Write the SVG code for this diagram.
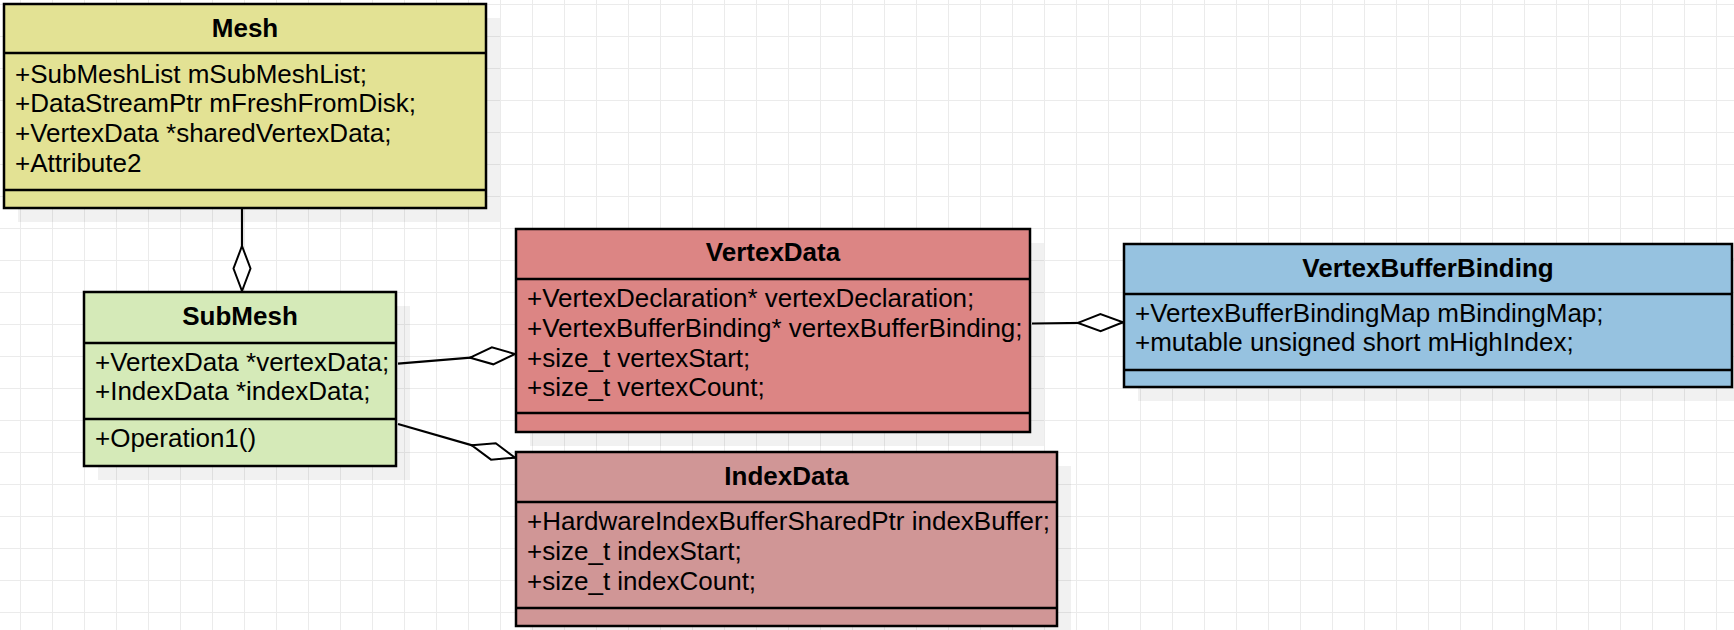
<svg xmlns="http://www.w3.org/2000/svg" width="1734" height="630" viewBox="0 0 1734 630">
<defs>
<pattern id="grid" width="32" height="32" patternUnits="userSpaceOnUse" x="20" y="4">
<path d="M0 0.5H32M0.5 0V32" fill="none" stroke="#ebebeb" stroke-width="1"/>
</pattern>
<marker id="odiamond" markerUnits="userSpaceOnUse" orient="auto" refX="45" refY="9" markerWidth="48" markerHeight="20" overflow="visible">
<path d="M0,9 L22.5,0.5 L45,9 L22.5,17.5 Z" fill="#fff" stroke="#000" stroke-width="2"/>
</marker>
</defs>
<style>
.shadow{fill:#000;fill-opacity:0.055}
.box{stroke:#000;stroke-width:2.5}
.sep{stroke:#000;stroke-width:2.5}
.title{font-family:"Liberation Sans",Arial,sans-serif;font-size:26px;font-weight:bold;text-anchor:middle;fill:#000}
.attr{font-family:"Liberation Sans",Arial,sans-serif;font-size:26px;fill:#000}
.conn{fill:none;stroke:#000;stroke-width:2.2}
</style>
<rect width="1734" height="630" fill="#fff"/>
<rect width="1734" height="630" fill="url(#grid)"/>
<g id="shadows">
<rect class="shadow" x="18" y="18" width="482" height="204"/>
<rect class="shadow" x="98" y="306" width="312" height="174"/>
<rect class="shadow" x="530" y="243" width="514" height="203"/>
<rect class="shadow" x="1138" y="258" width="608" height="143"/>
<rect class="shadow" x="530" y="466" width="541" height="174"/>
</g>
<g id="connectors">
<line class="conn" x1="242" y1="209" x2="242" y2="291" marker-end="url(#odiamond)"/>
<line class="conn" x1="398" y1="363.7" x2="515" y2="354" marker-end="url(#odiamond)"/>
<line class="conn" x1="398" y1="424" x2="515" y2="457.7" marker-end="url(#odiamond)"/>
<line class="conn" x1="1032" y1="323.5" x2="1123" y2="322.3" marker-end="url(#odiamond)"/>
</g>
<g id="Mesh">
<rect class="box" x="4" y="4" width="482" height="204" fill="#e3e294"/>
<line class="sep" x1="4" y1="53" x2="486" y2="53"/>
<line class="sep" x1="4" y1="190" x2="486" y2="190"/>
<text class="title" x="245" y="37">Mesh</text>
<text class="attr" x="15" y="82.5">+SubMeshList mSubMeshList;</text>
<text class="attr" x="15" y="112.2">+DataStreamPtr mFreshFromDisk;</text>
<text class="attr" x="15" y="141.9">+VertexData *sharedVertexData;</text>
<text class="attr" x="15" y="171.6">+Attribute2</text>
</g>
<g id="SubMesh">
<rect class="box" x="84" y="292" width="312" height="174" fill="#d5eab8"/>
<line class="sep" x1="84" y1="343" x2="396" y2="343"/>
<line class="sep" x1="84" y1="419" x2="396" y2="419"/>
<text class="title" x="240" y="325">SubMesh</text>
<text class="attr" x="95" y="370.7">+VertexData *vertexData;</text>
<text class="attr" x="95" y="400.4">+IndexData *indexData;</text>
<text class="attr" x="95" y="446.5">+Operation1()</text>
</g>
<g id="VertexData">
<rect class="box" x="516" y="229" width="514" height="203" fill="#dc8584"/>
<line class="sep" x1="516" y1="279" x2="1030" y2="279"/>
<line class="sep" x1="516" y1="413" x2="1030" y2="413"/>
<text class="title" x="773" y="261">VertexData</text>
<text class="attr" x="527" y="307.3">+VertexDeclaration* vertexDeclaration;</text>
<text class="attr" x="527" y="337">+VertexBufferBinding* vertexBufferBinding;</text>
<text class="attr" x="527" y="366.7">+size_t vertexStart;</text>
<text class="attr" x="527" y="396.4">+size_t vertexCount;</text>
</g>
<g id="VertexBufferBinding">
<rect class="box" x="1124" y="244" width="608" height="143" fill="#96c2e0"/>
<line class="sep" x1="1124" y1="294" x2="1732" y2="294"/>
<line class="sep" x1="1124" y1="370" x2="1732" y2="370"/>
<text class="title" x="1428" y="277">VertexBufferBinding</text>
<text class="attr" x="1135" y="321.7">+VertexBufferBindingMap mBindingMap;</text>
<text class="attr" x="1135" y="351.4">+mutable unsigned short mHighIndex;</text>
</g>
<g id="IndexData">
<rect class="box" x="516" y="452" width="541" height="174" fill="#d09696"/>
<line class="sep" x1="516" y1="502" x2="1057" y2="502"/>
<line class="sep" x1="516" y1="608" x2="1057" y2="608"/>
<text class="title" x="786.5" y="485">IndexData</text>
<text class="attr" x="527" y="530">+HardwareIndexBufferSharedPtr indexBuffer;</text>
<text class="attr" x="527" y="560">+size_t indexStart;</text>
<text class="attr" x="527" y="590">+size_t indexCount;</text>
</g>
</svg>
